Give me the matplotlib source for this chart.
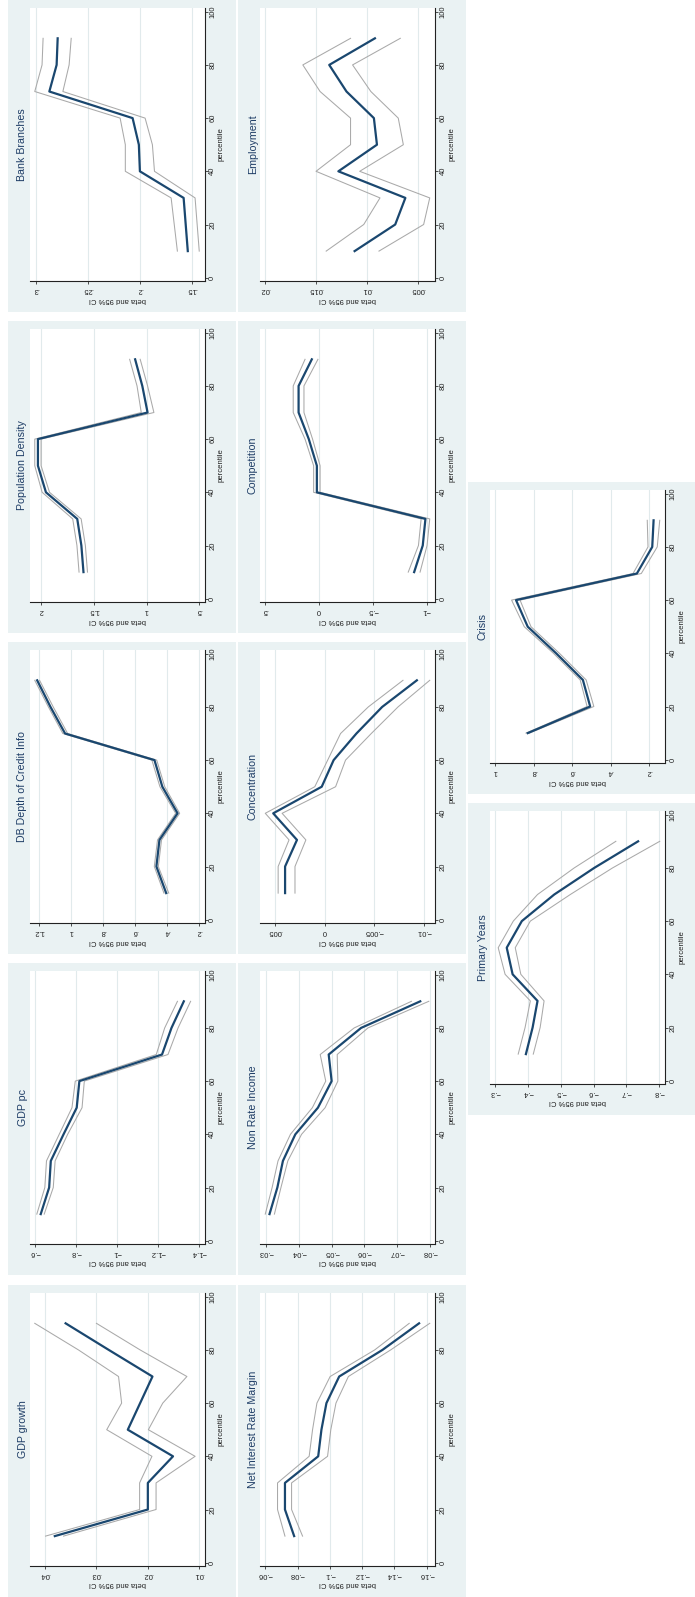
import re
import matplotlib
matplotlib.use("Agg")
import matplotlib.pyplot as plt
from matplotlib.patches import Rectangle

plt.rcParams['font.family'] = ['Liberation Sans', 'DejaVu Sans']

# ---------------------------------------------------------------
# Quantile-regression coefficients (beta) with 95% CI by percentile
# ---------------------------------------------------------------
percentile = [10, 20, 30, 40, 50, 60, 70, 80, 90]
pct_ticks = [0, 20, 40, 60, 80, 100]

gdp_growth_b = [.0381, .0200, .0200, .0151, .0239, .0215, .0191, .0276, .0360]
gdp_growth_hi = [.0399, .0216, .0216, .0192, .0280, .0251, .0257, .0335, .0420]
gdp_growth_lo = [.0364, .0184, .0184, .0108, .0199, .0171, .0124, .0215, .0300]
gdp_growth_ticks = [.01, .02, .03, .04]

nirm_b = [-.0779, -.0722, -.0722, -.0928, -.0948, -.0979, -.1058, -.1326, -.1553]
nirm_hi = [-.0722, -.0676, -.0676, -.0872, -.0893, -.0920, -.1002, -.1278, -.1492]
nirm_lo = [-.0831, -.0763, -.0763, -.0986, -.1006, -.1038, -.1115, -.1377, -.1619]
nirm_ticks = [-.16, -.14, -.12, -.1, -.08, -.06]

gdp_pc_b = [-.629, -.670, -.678, -.740, -.804, -.817, -1.219, -1.265, -1.325]
gdp_pc_hi = [-.610, -.649, -.657, -.719, -.781, -.797, -1.191, -1.232, -1.294]
gdp_pc_lo = [-.646, -.690, -.699, -.760, -.830, -.841, -1.248, -1.297, -1.358]
gdp_pc_ticks = [-1.4, -1.2, -1, -.8, -.6]

nri_b = [-.0310, -.0334, -.0351, -.0389, -.0458, -.0500, -.0491, -.0590, -.0771]
nri_hi = [-.0297, -.0318, -.0336, -.0374, -.0441, -.0482, -.0465, -.0569, -.0744]
nri_lo = [-.0325, -.0345, -.0366, -.0408, -.0480, -.0519, -.0517, -.0611, -.0797]
nri_ticks = [-.08, -.07, -.06, -.05, -.04, -.03]

depth_b = [.406, .467, .448, .335, .430, .479, 1.036, 1.127, 1.210]
depth_hi = [.420, .480, .460, .347, .445, .495, 1.050, 1.140, 1.225]
depth_lo = [.390, .455, .435, .322, .415, .465, 1.020, 1.110, 1.195]
depth_ticks = [.2, .4, .6, .8, 1, 1.2]

conc_b = [.0040, .0040, .0028, .0052, .0003, -.0009, -.0032, -.0058, -.0093]
conc_hi = [.0047, .0047, .0036, .0060, .0010, -.0003, -.0016, -.0044, -.0079]
conc_lo = [.0030, .0030, .0019, .0043, -.0011, -.0021, -.0047, -.0074, -.0106]
conc_ticks = [-.01, -.005, 0, .005]

popd_b = [1.598, 1.618, 1.657, 1.954, 2.030, 2.030, .990, 1.040, 1.108]
popd_hi = [1.640, 1.660, 1.700, 1.990, 2.060, 2.060, 1.050, 1.090, 1.160]
popd_lo = [1.560, 1.580, 1.620, 1.920, 2.000, 2.000, .930, .990, 1.060]
popd_ticks = [.5, 1, 1.5, 2]

comp_b = [-.885, -.965, -.990, .020, .020, .095, .190, .190, .067]
comp_hi = [-.830, -.925, -.950, .050, .050, .130, .240, .240, .130]
comp_lo = [-.940, -1.005, -1.030, -.010, -.010, .060, .140, .140, .010]
comp_ticks = [-1, -.5, 0, .5]

branch_b = [.154, .156, .158, .200, .201, .207, .287, .280, .279]
branch_hi = [.164, .167, .170, .214, .214, .219, .301, .294, .293]
branch_lo = [.143, .145, .147, .186, .188, .195, .274, .268, .266]
branch_ticks = [.15, .2, .25, .3]

empl_b = [.0112, .0072, .0062, .0128, .0090, .0093, .0120, .0137, .0092]
empl_hi = [.0140, .0103, .0087, .0150, .0116, .0116, .0146, .0163, .0116]
empl_lo = [.0088, .0044, .0038, .0107, .0064, .0069, .0096, .0114, .0067]
empl_ticks = [.005, .01, .015, .02]

prim_b = [-.3935, -.414, -.429, -.353, -.335, -.381, -.480, -.602, -.736]
prim_hi = [-.370, -.391, -.407, -.330, -.309, -.355, -.429, -.541, -.668]
prim_lo = [-.416, -.437, -.449, -.378, -.361, -.407, -.529, -.658, -.802]
prim_ticks = [-.8, -.7, -.6, -.5, -.4, -.3]

crisis_b = [.831, .506, .544, .683, .831, .892, .263, .183, .176]
crisis_hi = [.840, .522, .558, .697, .849, .915, .283, .205, .209]
crisis_lo = [.823, .487, .527, .666, .814, .871, .240, .157, .144]
crisis_ticks = [.2, .4, .6, .8, 1]

# ---------------------------------------------------------------
# Page geometry (pixels); the combined graph is laid out sideways
# ---------------------------------------------------------------
W, H = 695, 1597
PANEL_W, PANEL_H = 228, 312
COL_X = [7.5, 238, 468]
ROW_Y = [0, 321, 642, 963, 1285]

NAVY = '#1A476F'
CI_GRAY = '#A9A9A9'
BG = '#EAF2F3'
GRID = '#E1EAEC'
TITLE_C = '#1E3D66'
SMALL = 5.5

panels = [
    ("GDP growth", gdp_growth_b, gdp_growth_lo, gdp_growth_hi, gdp_growth_ticks, COL_X[0], ROW_Y[4]),
    ("Net Interest Rate Margin", nirm_b, nirm_lo, nirm_hi, nirm_ticks, COL_X[1], ROW_Y[4]),
    ("GDP pc", gdp_pc_b, gdp_pc_lo, gdp_pc_hi, gdp_pc_ticks, COL_X[0], ROW_Y[3]),
    ("Non Rate Income", nri_b, nri_lo, nri_hi, nri_ticks, COL_X[1], ROW_Y[3]),
    ("DB Depth of Credit Info", depth_b, depth_lo, depth_hi, depth_ticks, COL_X[0], ROW_Y[2]),
    ("Concentration", conc_b, conc_lo, conc_hi, conc_ticks, COL_X[1], ROW_Y[2]),
    ("Population Density", popd_b, popd_lo, popd_hi, popd_ticks, COL_X[0], ROW_Y[1]),
    ("Competition", comp_b, comp_lo, comp_hi, comp_ticks, COL_X[1], ROW_Y[1]),
    ("Bank Branches", branch_b, branch_lo, branch_hi, branch_ticks, COL_X[0], ROW_Y[0]),
    ("Employment", empl_b, empl_lo, empl_hi, empl_ticks, COL_X[1], ROW_Y[0]),
    ("Primary Years", prim_b, prim_lo, prim_hi, prim_ticks, COL_X[2], 803),
    ("Crisis", crisis_b, crisis_lo, crisis_hi, crisis_ticks, COL_X[2], 482),
]


def stata_fmt(v):
    s = "{:g}".format(v)
    s = re.sub(r'^(-?)0\.', r'\1.', s)
    return s.replace('-', '\u2212')


def fx(px):
    return px / W


def fy(py):
    return 1 - py / H


fig = plt.figure(figsize=(W / 100, H / 100), dpi=100)
fig.patch.set_facecolor('white')

for title, b, lo, hi, ticks, bx, by in panels:
    fig.patches.append(Rectangle((fx(bx), fy(by + PANEL_H)), PANEL_W / W, PANEL_H / H,
                                 transform=fig.transFigure, facecolor=BG,
                                 edgecolor='none', zorder=-5))
    ax_l, ax_t, ax_w, ax_h = bx + 22, by + 8, 175, 273
    ax = fig.add_axes([fx(ax_l), fy(ax_t + ax_h), ax_w / W, ax_h / H])
    ax.set_facecolor('white')

    ax.plot(hi, percentile, color=CI_GRAY, lw=0.75, zorder=3)
    ax.plot(lo, percentile, color=CI_GRAY, lw=0.75, zorder=3)
    ax.plot(b, percentile, color=NAVY, lw=1.6, zorder=4)

    vmin = min(min(lo), ticks[0])
    vmax = max(max(hi), ticks[-1])
    pad = 0.032 * (vmax - vmin)
    ax.set_xlim(vmax + pad, vmin - pad)
    ax.set_ylim(-1.24, 101.4)

    ax.set_xticks(ticks)
    ax.set_xticklabels([stata_fmt(t) for t in ticks], rotation=180,
                       fontsize=SMALL, color='#222222')
    ax.yaxis.tick_right()
    ax.set_yticks(pct_ticks)
    ax.set_yticklabels([str(t) for t in pct_ticks], rotation=90,
                       va='center', fontsize=SMALL, color='#222222')
    ax.tick_params(axis='x', length=2.4, width=0.6, pad=1.2, color='#333333')
    ax.tick_params(axis='y', length=2.4, width=0.6, pad=1.0, color='#333333')

    for t in ticks:
        ax.axvline(t, color=GRID, lw=0.8, zorder=1)

    for side in ('left', 'top'):
        ax.spines[side].set_visible(False)
    for side in ('bottom', 'right'):
        ax.spines[side].set_linewidth(0.8)
        ax.spines[side].set_color('#222222')

    cy = ax_t + ax_h / 2
    fig.text(fx(bx + 15), fy(cy), title, rotation=90, ha='center', va='center',
             fontsize=7.7, color=TITLE_C)
    fig.text(fx(bx + 214), fy(cy), 'percentile', rotation=90, ha='center',
             va='center', fontsize=5.6, color='#222222')
    fig.text(fx(ax_l + ax_w / 2), fy(by + 299), 'beta and 95% CI', rotation=180,
             ha='center', va='center', fontsize=5.5, color='#222222')

fig.savefig('out.png', dpi=100, facecolor='white')
